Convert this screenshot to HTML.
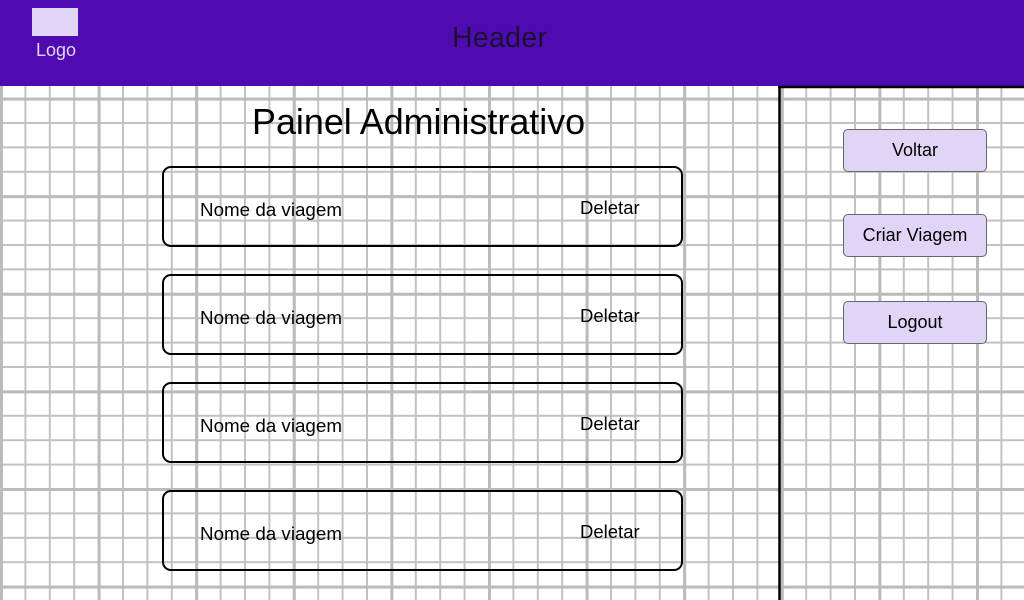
<!DOCTYPE html>
<html><head><style>
body{margin:0;width:1024px;height:600px;overflow:hidden;position:relative;font-family:"Liberation Sans",sans-serif;background:#fff}
.abs{position:absolute}
.card{position:absolute;left:162px;width:517px;height:77px;border:2px solid #000;border-radius:9px}
.card .n{position:absolute;left:36px;top:31px;font-size:18.8px}
.card .d{position:absolute;left:416px;top:29px;font-size:18.5px}
.btn{position:absolute;left:843px;width:142px;height:41px;background:#e1d5f7;border:1px solid #666;border-radius:5px;font-size:18px;text-align:center;line-height:41px}
</style></head><body>
<svg class="abs" style="left:0;top:0" width="1024" height="600">
<defs>
<pattern id="g" width="24.4" height="24.4" patternUnits="userSpaceOnUse">
<path d="M0 1H24.4M1 0V24.4" stroke="#c2c2c2" stroke-width="2" fill="none"/>
</pattern>
<pattern id="G" width="97.6" height="97.6" patternUnits="userSpaceOnUse">
<path d="M0 1.5H97.6M1.5 0V97.6" stroke="#bbbbbb" stroke-width="3" fill="none"/>
</pattern>
</defs>
<rect width="1024" height="600" fill="url(#g)"/>
<rect width="1024" height="600" fill="url(#G)"/>
<rect width="1024" height="86" fill="#4f0baf"/>
<rect x="32" y="8" width="46" height="28" fill="#e1d5f7"/>
<path d="M779.5 86V600M778 87H1024" stroke="#000" stroke-width="2.5"/>
</svg>
<div class="abs" style="left:36px;top:40px;font-size:18px;color:#e1d5f7">Logo</div>
<div class="abs" style="left:452px;top:22px;font-size:28.5px;color:#1a1030;letter-spacing:0.3px">Header</div>
<div class="abs" style="left:252px;top:102px;font-size:35.9px">Painel Administrativo</div>
<div class="card" style="top:166px"><span class="n">Nome da viagem</span><span class="d">Deletar</span></div>
<div class="card" style="top:274px"><span class="n">Nome da viagem</span><span class="d">Deletar</span></div>
<div class="card" style="top:382px"><span class="n">Nome da viagem</span><span class="d">Deletar</span></div>
<div class="card" style="top:490px"><span class="n">Nome da viagem</span><span class="d">Deletar</span></div>
<div class="btn" style="top:129px">Voltar</div>
<div class="btn" style="top:214px">Criar Viagem</div>
<div class="btn" style="top:301px">Logout</div>
</body></html>
